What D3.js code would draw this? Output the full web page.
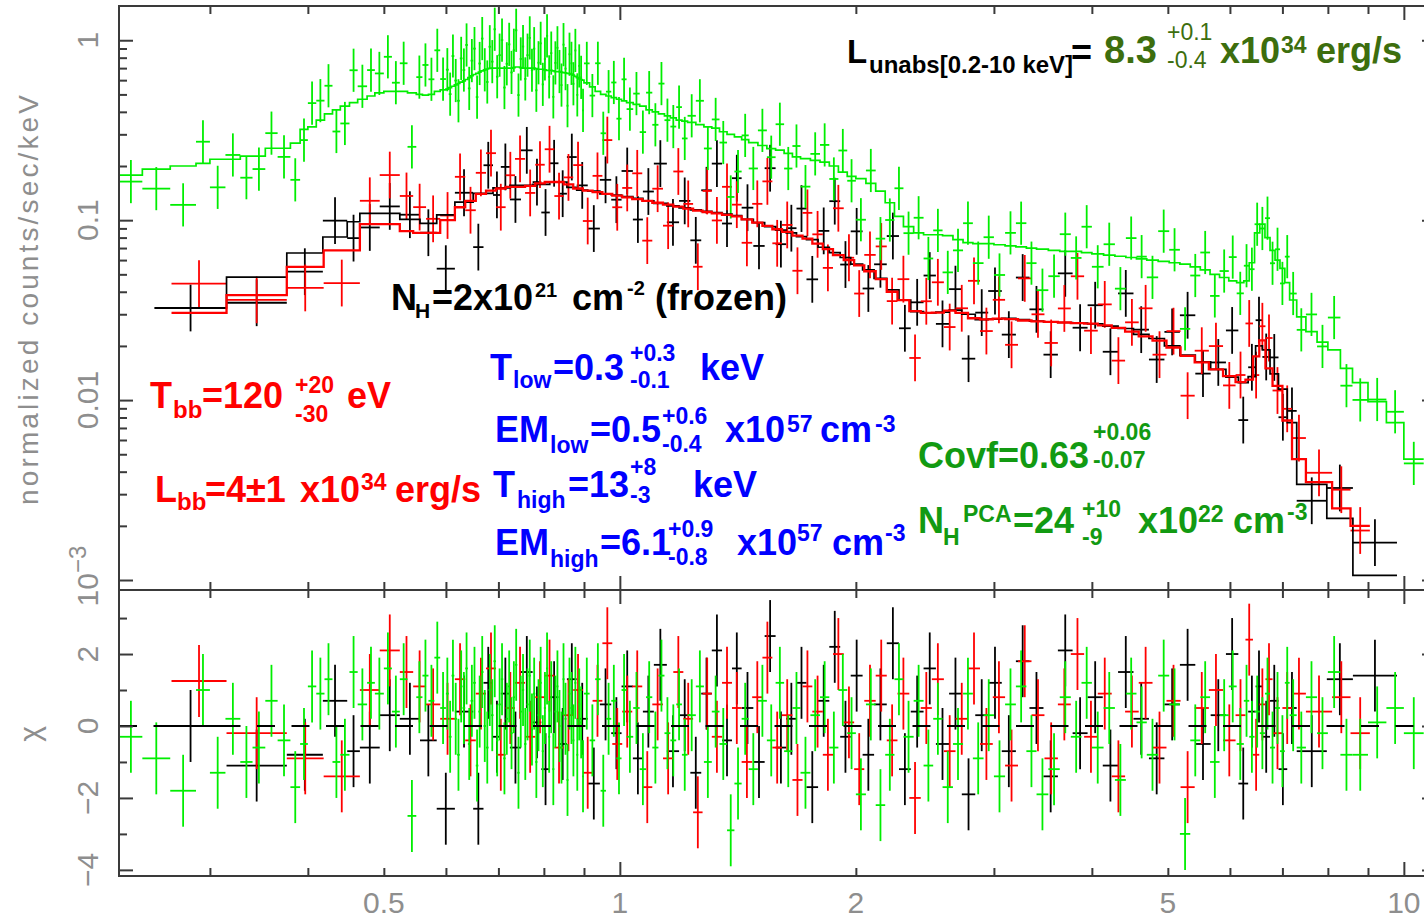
<!DOCTYPE html>
<html>
<head>
<meta charset="utf-8">
<script src="https://cdn.jsdelivr.net/npm/d3@7"></script>
<style>
  body { margin: 0; background: #fff; }
  svg { display: block; }
  .ann text { font-family: "Liberation Sans", Arial, sans-serif; font-weight: bold; }
  .axlab { font-family: "Liberation Sans", Arial, sans-serif; fill: #8e8e8e; }
</style>
</head>
<body>
<div id="chart"></div>
<script>
// ---- data (energies in keV, model in counts/s/keV, residuals in sigma) ----
// black data set
const blackEdges = [0.255, 0.315, 0.376, 0.418, 0.449, 0.466, 0.494, 0.524, 0.556, 0.584,
  0.616, 0.650, 0.670, 0.689, 0.705, 0.724, 0.748, 0.774, 0.794, 0.814,
  0.835, 0.856, 0.881, 0.910, 0.943, 0.975, 1.005, 1.039, 1.070, 1.105,
  1.148, 1.190, 1.230, 1.270, 1.310, 1.350, 1.390, 1.430, 1.480, 1.530,
  1.580, 1.630, 1.680, 1.730, 1.790, 1.850, 1.910, 1.970, 2.040, 2.110,
  2.190, 2.270, 2.350, 2.440, 2.530, 2.630, 2.730, 2.840, 2.950, 3.070,
  3.200, 3.330, 3.470, 3.620, 3.780, 3.950, 4.130, 4.320, 4.520, 4.730,
  4.950, 5.180, 5.420, 5.670, 5.930, 6.150, 6.330, 6.470, 6.600, 6.750,
  6.920, 7.100, 7.300, 7.975, 8.610, 9.800];
const blackModel = [0.0325, 0.0483, 0.0657, 0.0806, 0.098, 0.109, 0.109, 0.101, 0.096, 0.107,
  0.126, 0.141, 0.141, 0.151, 0.151, 0.156, 0.156, 0.158, 0.158, 0.163,
  0.163, 0.152, 0.147, 0.145, 0.140, 0.138, 0.135, 0.132, 0.128, 0.124,
  0.120, 0.117, 0.114, 0.112, 0.110, 0.108, 0.106, 0.101, 0.097, 0.092,
  0.088, 0.085, 0.081, 0.078, 0.0707, 0.066, 0.062, 0.057, 0.053, 0.0475,
  0.041, 0.0359, 0.0310, 0.0305, 0.0308, 0.0316, 0.0300, 0.0280, 0.0282, 0.0285,
  0.0280, 0.0275, 0.0272, 0.0270, 0.0268, 0.0265, 0.0258, 0.0250, 0.0232, 0.0220,
  0.0200, 0.0178, 0.0163, 0.0148, 0.0134, 0.0125, 0.0135, 0.0200, 0.0190, 0.0140,
  0.0115, 0.0075, 0.0034, 0.0022, 0.00106];
const blackChi = [0.0, -1.1, -0.8, 0.7, -0.7, -0.6, 0.3, 0.2, -0.4, -2.3,
  0.4, -2.3, 1.2, -0.3, 0.9, -0.6, 1.5, 0.1, -1.2, 0.8,
  -0.5, 1.3, 0.2, -1.6, 0.6, -0.2, 1.1, -0.9, 0.4, 1.7,
  -0.7, 0.3, -1.3, 0.9, 2.1, -0.4, 1.6, 0.5, -1.0, 2.5,
  -0.6, 0.2, 1.2, -1.7, 0.7, 2.2, -0.3, 1.4, -0.8, 0.6,
  2.3, -1.2, 0.4, 1.6, -0.5, 0.9, -1.9, 0.3, 1.2, -0.7,
  1.8, 0.5, -1.4, 2.1, -0.2, 0.8, -1.1, 1.5, 0.2, -0.9,
  0.6, 1.7, -0.5, 0.3, 2.0, -1.6, 0.4, 1.1, -0.3, 0.7,
  -1.2, 0.5, -0.7, 1.3, 1.4];

// red data set
const redEdges = [0.268, 0.315, 0.376, 0.419, 0.466, 0.494, 0.524, 0.545, 0.566, 0.590,
  0.616, 0.635, 0.655, 0.675, 0.695, 0.715, 0.735, 0.757, 0.780, 0.802,
  0.825, 0.848, 0.872, 0.897, 0.923, 0.950, 0.978, 1.007, 1.037, 1.068,
  1.100, 1.135, 1.170, 1.205, 1.240, 1.275, 1.310, 1.350, 1.390, 1.430,
  1.475, 1.520, 1.565, 1.610, 1.660, 1.710, 1.760, 1.815, 1.870, 1.930,
  1.990, 2.050, 2.120, 2.190, 2.260, 2.340, 2.420, 2.500, 2.590, 2.680,
  2.780, 2.880, 2.990, 3.100, 3.220, 3.350, 3.480, 3.620, 3.760, 3.910,
  4.070, 4.240, 4.410, 4.590, 4.780, 4.980, 5.190, 5.410, 5.640, 5.880,
  6.100, 6.280, 6.420, 6.540, 6.660, 6.800, 7.000, 7.200, 7.500, 8.100,
  8.550, 9.050];
const redModel = [0.0305, 0.0383, 0.055, 0.068, 0.095, 0.095, 0.087, 0.085, 0.085, 0.100,
  0.118, 0.128, 0.140, 0.146, 0.150, 0.153, 0.153, 0.155, 0.160, 0.163,
  0.163, 0.158, 0.150, 0.146, 0.143, 0.140, 0.137, 0.134, 0.131, 0.128,
  0.125, 0.122, 0.119, 0.116, 0.113, 0.111, 0.109, 0.107, 0.105, 0.101,
  0.097, 0.093, 0.089, 0.086, 0.082, 0.079, 0.074, 0.069, 0.064, 0.060,
  0.056, 0.052, 0.047, 0.040, 0.0359, 0.0312, 0.0305, 0.0306, 0.0314, 0.0305,
  0.0285, 0.0281, 0.0284, 0.0282, 0.0277, 0.0274, 0.0272, 0.0270, 0.0268, 0.0266,
  0.0260, 0.0252, 0.0240, 0.0226, 0.0214, 0.0196, 0.0176, 0.0162, 0.0148, 0.0136,
  0.0126, 0.0130, 0.0175, 0.0215, 0.0150, 0.0120, 0.0077, 0.0047, 0.0035, 0.0025,
  0.0020];
const redChi = [1.25, -0.2, -0.9, -1.4, 1.0, 2.1, 1.5, 1.1, 0.6, 0.2,
  1.3, -0.4, 0.9, 1.6, -0.8, 0.5, 1.2, -0.3, 0.8, 1.4,
  -0.6, 0.3, 1.0, -1.3, 0.7, 2.3, -0.5, 0.4, 1.1, -1.7,
  0.6, -0.9, 1.5, 0.2, -2.4, 0.9, -0.3, 1.2, 0.5, -1.0,
  0.8, 1.9, -0.6, 0.3, -1.5, 1.1, 0.4, -0.8, 2.0, 0.1,
  -1.2, 0.7, 1.4, -0.4, 0.9, -2.0, 0.5, 1.3, -0.7, 0.2,
  1.6, -0.5, 0.8, -1.1, 1.8, 0.3, -0.9, 0.6, 2.0, -0.3,
  0.9, -1.4, 0.4, 1.2, -0.6, 0.7, -1.7, 0.5, 1.0, -0.4,
  0.3, 2.4, -0.8, 0.6, 1.3, -0.2, 0.5, 0.9, 0.4, 0.8,
  -0.2];

// green data set
const greenEdges = [0.230, 0.246, 0.267, 0.288, 0.300, 0.314, 0.328, 0.340, 0.353, 0.366,
  0.380, 0.391, 0.400, 0.410, 0.420, 0.430, 0.440, 0.452, 0.463, 0.476,
  0.487, 0.500, 0.512, 0.524, 0.536, 0.550, 0.560, 0.570, 0.580, 0.590,
  0.600, 0.605, 0.610, 0.615, 0.620, 0.625, 0.630, 0.635, 0.640, 0.645,
  0.650, 0.655, 0.660, 0.665, 0.670, 0.675, 0.680, 0.685, 0.690, 0.695,
  0.700, 0.705, 0.710, 0.715, 0.720, 0.725, 0.730, 0.735, 0.740, 0.745,
  0.750, 0.755, 0.760, 0.765, 0.770, 0.775, 0.780, 0.785, 0.790, 0.795,
  0.800, 0.805, 0.810, 0.815, 0.820, 0.825, 0.830, 0.835, 0.840, 0.845,
  0.850, 0.855, 0.860, 0.865, 0.870, 0.875, 0.880, 0.885, 0.890, 0.895,
  0.900, 0.915, 0.930, 0.945, 0.960, 0.975, 0.990, 1.005, 1.020, 1.040,
  1.060, 1.080, 1.100, 1.120, 1.140, 1.160, 1.180, 1.200, 1.220, 1.250,
  1.280, 1.310, 1.340, 1.370, 1.400, 1.430, 1.460, 1.500, 1.540, 1.580,
  1.620, 1.660, 1.700, 1.750, 1.800, 1.850, 1.900, 1.950, 2.000, 2.060,
  2.120, 2.180, 2.240, 2.300, 2.370, 2.440, 2.510, 2.580, 2.660, 2.740,
  2.820, 2.910, 3.000, 3.100, 3.200, 3.300, 3.400, 3.520, 3.640, 3.760,
  3.880, 4.000, 4.140, 4.280, 4.420, 4.560, 4.700, 4.860, 5.020, 5.180,
  5.340, 5.500, 5.660, 5.820, 5.980, 6.120, 6.250, 6.350, 6.450, 6.550,
  6.650, 6.750, 6.850, 6.950, 7.050, 7.150, 7.300, 7.500, 7.750, 8.000,
  8.300, 8.600, 9.000, 9.500, 10.00, 10.60];
const greenModel = [0.178, 0.192, 0.200, 0.207, 0.218, 0.218, 0.227, 0.227, 0.251, 0.251,
  0.268, 0.320, 0.330, 0.360, 0.390, 0.410, 0.430, 0.450, 0.470, 0.490,
  0.510, 0.520, 0.520, 0.520, 0.510, 0.500, 0.495, 0.500, 0.520, 0.530,
  0.535, 0.545, 0.555, 0.565, 0.575, 0.585, 0.595, 0.605, 0.620, 0.635,
  0.645, 0.655, 0.665, 0.675, 0.685, 0.692, 0.698, 0.700, 0.700, 0.700,
  0.700, 0.700, 0.700, 0.700, 0.700, 0.700, 0.705, 0.710, 0.710, 0.705,
  0.700, 0.700, 0.700, 0.700, 0.700, 0.700, 0.695, 0.690, 0.690, 0.690,
  0.685, 0.680, 0.680, 0.680, 0.675, 0.670, 0.670, 0.670, 0.665, 0.660,
  0.658, 0.655, 0.652, 0.648, 0.640, 0.630, 0.620, 0.610, 0.605, 0.600,
  0.580, 0.550, 0.520, 0.500, 0.490, 0.480, 0.470, 0.460, 0.450, 0.440,
  0.430, 0.410, 0.400, 0.390, 0.380, 0.370, 0.360, 0.355, 0.350, 0.340,
  0.330, 0.325, 0.310, 0.300, 0.290, 0.280, 0.270, 0.260, 0.250, 0.245,
  0.235, 0.225, 0.220, 0.215, 0.210, 0.200, 0.185, 0.175, 0.170, 0.160,
  0.145, 0.125, 0.105, 0.092, 0.085, 0.083, 0.083, 0.082, 0.078, 0.075,
  0.074, 0.074, 0.073, 0.072, 0.071, 0.070, 0.069, 0.068, 0.067, 0.067,
  0.066, 0.065, 0.064, 0.063, 0.062, 0.061, 0.060, 0.059, 0.058, 0.057,
  0.055, 0.053, 0.050, 0.048, 0.046, 0.045, 0.046, 0.058, 0.085, 0.095,
  0.080, 0.068, 0.060, 0.054, 0.045, 0.036, 0.029, 0.024, 0.021, 0.019,
  0.015, 0.0125, 0.0098, 0.0075, 0.0047];
const greenChi = [-0.3, -0.9, -1.8, 1.0, -1.3, 0.2, -1.0, -0.6, 0.7, -0.4,
  -1.7, -0.5, 1.1, 0.9, 1.3, -1.0, -0.8, 1.5, 0.6, 1.2,
  0.9, 1.6, 0.4, 1.3, -2.5, 0.8, 1.4, 0.7, 1.9, 0.5,
  0.9, -0.3, 1.4, 0.2, -0.8, 1.1, 0.5, 1.6, -0.5, 0.7,
  1.2, -1.1, 0.4, 1.5, 0.0, -0.6, 1.0, 0.3, 1.8, -0.4,
  0.6, 1.3, -0.9, 0.2, 1.1, -0.2, 0.8, 1.7, -1.3, 0.4,
  1.0, -0.5, 0.6, 1.4, -0.1, 0.9, -1.0, 0.3, 1.2, -0.7,
  0.5, 1.6, -0.3, 0.8, -1.2, 0.4, 1.1, 0.0, -0.6, 1.3,
  0.2, -1.5, 0.9, 0.5, -0.4, 1.2, -0.8, 0.6, 0.1, -1.4,
  0.9, -0.4, 1.3, -1.8, 0.2, 0.7, -0.9, 1.0, -0.3, 0.5,
  -1.2, 0.8, -0.6, 1.4, -0.2, -0.4, 0.6, -0.8, 0.3, 1.1,
  -1.0, 0.4, -0.5, -2.9, -1.6, 0.2, -1.2, 0.7, -0.4, 1.2,
  -0.7, 0.5, -1.3, 0.3, 0.8, -0.6, 1.0, -0.2, -1.9, 0.6,
  -2.2, -0.8, 1.3, -0.3, 0.7, -1.1, 0.2, -1.7, -0.5, 0.9,
  -0.9, 0.3, -1.4, 0.6, 1.1, -0.7, -1.9, -1.2, 0.8, -0.3,
  1.2, -0.6, 0.5, -1.5, 0.9, 0.1, -0.8, 1.4, 0.6, -3.0,
  -0.4, 0.8, -1.0, 0.3, 1.1, -0.5, 0.7, -0.3, 0.4, -0.2,
  0.9, -0.6, 0.5, -0.7, 1.2, 0.3, -0.6, 0.8, -0.2, 1.5,
  -0.8, -0.8, 0.1, 0.5, -0.2];

// one-sigma error bar half length (dex), black / red / green
const sigmaDex = [0.13, 0.13, 0.12];

// axis ticks and labels
const xMajor = [1, 10];
const xMinor = [0.3, 0.4, 0.5, 0.6, 0.7, 0.8, 0.9, 2, 3, 4, 5, 6, 7, 8, 9];
const xLabels = [0.5, 1, 2, 5, 10];
const yMajor = [0.001, 0.01, 0.1, 1];
const yMinor = [0.002, 0.003, 0.004, 0.005, 0.006, 0.007, 0.008, 0.009,
  0.02, 0.03, 0.04, 0.05, 0.06, 0.07, 0.08, 0.09,
  0.2, 0.3, 0.4, 0.5, 0.6, 0.7, 0.8, 0.9];
const yLabels = [1, 0.1, 0.01];
const resMajor = [-4, -2, 0, 2];
const resMinor = [-3, -1, 1, 3];
const resLabels = ['−4', '−2', '0', '2'];

// ---- chart ----
const W = 1424, H = 919;
const L = 119, R = 1436, T = 6, MID = 590, B = 876;
const axCol = '#3a3a3a';

const svg = d3.select('#chart').append('svg').attr('width', W).attr('height', H);
svg.append('rect').attr('width', W).attr('height', H).attr('fill', '#fff');

const x = d3.scaleLog().domain([0.2297, 10.99]).range([L, R]);
const yTop = d3.scaleLog().domain([8.8e-4, 1.55]).range([MID, T]);
const yRes = d3.scaleLinear().domain([-4.17, 3.78]).range([B, MID]);

const defs = svg.append('defs');
defs.append('clipPath').attr('id', 'clip-top').append('rect')
  .attr('x', L).attr('y', T).attr('width', R - L).attr('height', MID - T);
defs.append('clipPath').attr('id', 'clip-res').append('rect')
  .attr('x', L).attr('y', MID).attr('width', R - L).attr('height', B - MID);

const sets = [
  {edges: blackEdges, model: blackModel, chi: blackChi, s: sigmaDex[0], color: '#000000', mw: 1.7},
  {edges: redEdges, model: redModel, chi: redChi, s: sigmaDex[1], color: '#ff0000', mw: 2.3},
  {edges: greenEdges, model: greenModel, chi: greenChi, s: sigmaDex[2], color: '#00ee00', mw: 1.7}
];
sets.forEach(set => {
  set.bins = set.model.map((m, i) => {
    const lo = set.edges[i], hi = set.edges[i + 1];
    // plotted data = model shifted by residual * sigma
    return {lo, hi, c: Math.sqrt(lo * hi), m, chi: set.chi[i], d: m * Math.pow(10, set.chi[i] * set.s)};
  });
});

// upper panel: data crosses then model steps
const topG = svg.append('g').attr('clip-path', 'url(#clip-top)');
sets.forEach(set => {
  const g = topG.append('g').attr('stroke', set.color).attr('stroke-width', 1.8);
  g.selectAll(null).data(set.bins).enter().append('line')
    .attr('x1', d => x(d.c)).attr('x2', d => x(d.c))
    .attr('y1', d => yTop(d.d * Math.pow(10, -set.s)))
    .attr('y2', d => yTop(d.d * Math.pow(10, set.s)));
  g.selectAll(null).data(set.bins).enter().append('line')
    .attr('x1', d => x(d.lo)).attr('x2', d => x(d.hi))
    .attr('y1', d => yTop(d.d)).attr('y2', d => yTop(d.d));
});
const step = d3.line().x(p => x(p[0])).y(p => yTop(p[1])).curve(d3.curveStepAfter);
sets.forEach(set => {
  const pts = set.bins.map(b => [b.lo, b.m]);
  const last = set.bins[set.bins.length - 1];
  pts.push([last.hi, last.m]);
  topG.append('path').attr('d', step(pts))
    .attr('fill', 'none').attr('stroke', set.color).attr('stroke-width', set.mw);
});

// lower panel: residual crosses
const resG = svg.append('g').attr('clip-path', 'url(#clip-res)');
sets.forEach(set => {
  const g = resG.append('g').attr('stroke', set.color).attr('stroke-width', 1.8);
  g.selectAll(null).data(set.bins).enter().append('line')
    .attr('x1', d => x(d.c)).attr('x2', d => x(d.c))
    .attr('y1', d => yRes(d.chi - 1)).attr('y2', d => yRes(d.chi + 1));
  g.selectAll(null).data(set.bins).enter().append('line')
    .attr('x1', d => x(d.lo)).attr('x2', d => x(d.hi))
    .attr('y1', d => yRes(d.chi)).attr('y2', d => yRes(d.chi));
});
resG.append('line')
  .attr('x1', L).attr('x2', R).attr('y1', yRes(0)).attr('y2', yRes(0))
  .attr('stroke', '#000').attr('stroke-width', 2).attr('stroke-dasharray', '18,16.5');

// frames
[[T, MID], [MID, B]].forEach(([y0, y1]) => {
  svg.append('rect').attr('x', L).attr('y', y0).attr('width', R - L).attr('height', y1 - y0)
    .attr('fill', 'none').attr('stroke', axCol).attr('stroke-width', 2);
});

// ticks (all pointing into the panels)
function ticks(axis, transform) {
  const g = svg.append('g').attr('transform', transform).call(axis);
  g.select('.domain').remove();
  g.selectAll('line').attr('stroke', axCol).attr('stroke-width', 2);
}
[[xMajor, 14], [xMinor, 8]].forEach(([vals, len]) => {
  ticks(d3.axisTop(x).tickValues(vals).tickSize(-len).tickFormat(''), `translate(0,${T})`);
  ticks(d3.axisBottom(x).tickValues(vals).tickSize(-len).tickFormat(''), `translate(0,${MID})`);
  ticks(d3.axisTop(x).tickValues(vals).tickSize(-len).tickFormat(''), `translate(0,${MID})`);
  ticks(d3.axisBottom(x).tickValues(vals).tickSize(-len).tickFormat(''), `translate(0,${B})`);
});
[[yMajor, 14], [yMinor, 8]].forEach(([vals, len]) => {
  ticks(d3.axisLeft(yTop).tickValues(vals).tickSize(-len).tickFormat(''), `translate(${L},0)`);
  ticks(d3.axisRight(yTop).tickValues(vals).tickSize(-len).tickFormat(''), `translate(${R},0)`);
});
[[resMajor, 14], [resMinor, 8]].forEach(([vals, len]) => {
  ticks(d3.axisLeft(yRes).tickValues(vals).tickSize(-len).tickFormat(''), `translate(${L},0)`);
  ticks(d3.axisRight(yRes).tickValues(vals).tickSize(-len).tickFormat(''), `translate(${R},0)`);
});

// tick labels
const lab = svg.append('g').attr('class', 'axlab');
lab.selectAll(null).data(xLabels).enter().append('text')
  .attr('x', d => x(d)).attr('y', 913).attr('text-anchor', 'middle')
  .attr('font-size', 30).text(d => d);
lab.selectAll(null).data(yLabels).enter().append('text')
  .attr('transform', d => `translate(98,${yTop(d)}) rotate(-90)`)
  .attr('text-anchor', 'middle').attr('font-size', 30).text(d => d);
const milli = lab.append('text')
  .attr('transform', `translate(98,${yTop(0.001) - 4}) rotate(-90)`)
  .attr('text-anchor', 'middle').attr('font-size', 30);
milli.append('tspan').text('10');
milli.append('tspan').attr('dy', -12).attr('font-size', 24).text('−3');
lab.selectAll(null).data(resMajor).enter().append('text')
  .attr('transform', d => `translate(98,${yRes(d)}) rotate(-90)`)
  .attr('text-anchor', 'middle').attr('font-size', 30).text((d, i) => resLabels[i]);

// axis titles
lab.append('text').attr('transform', 'translate(38,300) rotate(-90)')
  .attr('text-anchor', 'middle').attr('font-size', 28)
  .attr('textLength', 410).attr('lengthAdjust', 'spacing')
  .text('normalized counts/sec/keV');
lab.append('text').attr('transform', `translate(40,${yRes(0) + 8}) rotate(-90)`)
  .attr('text-anchor', 'middle').attr('font-size', 30).text('χ');

// ---- annotations ----
const ann = svg.append('g').attr('class', 'ann');
function put(px, py, str, size, fill, weight) {
  ann.append('text').attr('x', px).attr('y', py).attr('font-size', size)
    .attr('fill', fill).style('font-weight', weight || 'bold').text(str);
}
const cBlack = '#000000', cOlive = '#3d6e0e', cRed = '#ff0000', cBlue = '#0000ff', cGreen = '#129a12';

put(847, 63, 'L', 33, cBlack);
put(869, 73, 'unabs[0.2-10 keV]', 24, cBlack);
put(1071, 65, '=', 36, cBlack);
put(1104, 63, '8.3', 38, cOlive);
put(1167, 40, '+0.1', 23, cOlive, 'normal');
put(1167, 68, '-0.4', 23, cOlive, 'normal');
put(1220, 63, 'x10', 36, cOlive);
put(1281, 53, '34', 23, cOlive);
put(1316, 63, 'erg/s', 36, cOlive);

put(391, 310, 'N', 36, cBlack);
put(415, 318, 'H', 21, cBlack);
put(432, 310, '=2x10', 36, cBlack);
put(535, 297, '21', 20, cBlack);
put(572, 310, 'cm', 36, cBlack);
put(627, 295, '-2', 20, cBlack);
put(655, 310, '(frozen)', 36, cBlack);

put(150, 408, 'T', 36, cRed);
put(173, 418, 'bb', 24, cRed);
put(202, 408, '=120', 36, cRed);
put(295, 393, '+20', 23, cRed);
put(295, 422, '-30', 23, cRed);
put(347, 408, 'eV', 36, cRed);

put(155, 502, 'L', 36, cRed);
put(177, 510, 'bb', 24, cRed);
put(205, 502, '=4±1', 36, cRed);
put(300, 502, 'x10', 36, cRed);
put(361, 490, '34', 23, cRed);
put(395, 502, 'erg/s', 36, cRed);

put(490, 380, 'T', 36, cBlue);
put(513, 388, 'low', 23, cBlue);
put(553, 380, '=0.3', 36, cBlue);
put(630, 361, '+0.3', 23, cBlue);
put(630, 388, '-0.1', 23, cBlue);
put(700, 380, 'keV', 36, cBlue);

put(495, 442, 'EM', 36, cBlue);
put(550, 453, 'low', 23, cBlue);
put(590, 442, '=0.5', 36, cBlue);
put(662, 424, '+0.6', 23, cBlue);
put(662, 452, '-0.4', 23, cBlue);
put(725, 442, 'x10', 36, cBlue);
put(787, 432, '57', 23, cBlue);
put(820, 442, 'cm', 36, cBlue);
put(875, 432, '-3', 23, cBlue);

put(493, 497, 'T', 36, cBlue);
put(517, 508, 'high', 23, cBlue);
put(568, 497, '=13', 36, cBlue);
put(630, 475, '+8', 23, cBlue);
put(630, 503, '-3', 23, cBlue);
put(693, 497, 'keV', 36, cBlue);

put(495, 555, 'EM', 36, cBlue);
put(550, 567, 'high', 23, cBlue);
put(600, 555, '=6.1', 36, cBlue);
put(668, 537, '+0.9', 23, cBlue);
put(668, 565, '-0.8', 23, cBlue);
put(737, 555, 'x10', 36, cBlue);
put(797, 541, '57', 23, cBlue);
put(832, 555, 'cm', 36, cBlue);
put(885, 541, '-3', 23, cBlue);

put(918, 468, 'Covf=0.63', 36, cGreen);
put(1093, 440, '+0.06', 23, cGreen);
put(1093, 468, '-0.07', 23, cGreen);

put(918, 533, 'N', 36, cGreen);
put(943, 545, 'H', 23, cGreen);
put(963, 522, 'PCA', 23, cGreen);
put(1013, 533, '=24', 36, cGreen);
put(1082, 517, '+10', 23, cGreen);
put(1082, 545, '-9', 23, cGreen);
put(1138, 533, 'x10', 36, cGreen);
put(1198, 522, '22', 23, cGreen);
put(1233, 533, 'cm', 36, cGreen);
put(1287, 520, '-3', 23, cGreen);
</script>
</body>
</html>
